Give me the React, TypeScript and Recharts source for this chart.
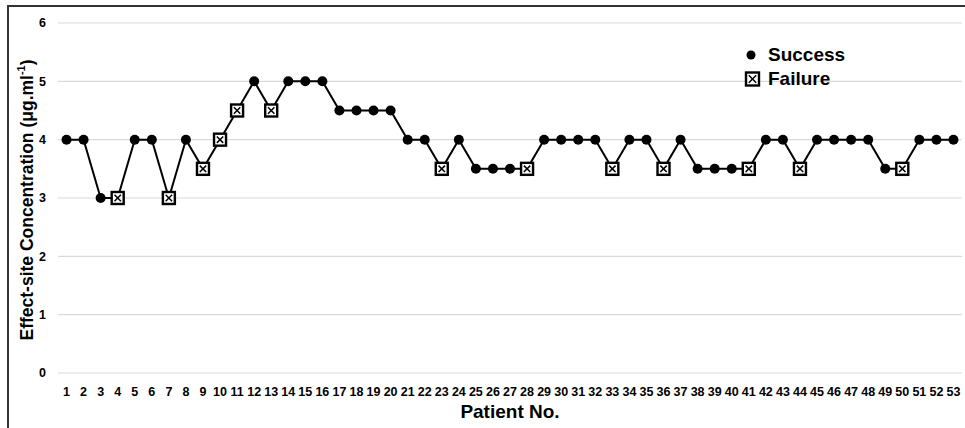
import React from 'react';
import { LineChart, Line, XAxis, YAxis, CartesianGrid, Legend, Label } from 'recharts';

const patients = [
  1, 2, 3, 4, 5, 6, 7, 8, 9, 10, 11, 12, 13, 14, 15, 16, 17, 18, 19, 20, 21, 22, 23, 24, 25, 26, 27,
  28, 29, 30, 31, 32, 33, 34, 35, 36, 37, 38, 39, 40, 41, 42, 43, 44, 45, 46, 47, 48, 49, 50, 51, 52, 53,
];
const concentration = [
  4, 4, 3, 3, 4, 4, 3, 4, 3.5, 4, 4.5, 5, 4.5, 5, 5, 5, 4.5, 4.5, 4.5, 4.5, 4, 4, 3.5, 4, 3.5, 3.5, 3.5,
  3.5, 4, 4, 4, 4, 3.5, 4, 4, 3.5, 4, 3.5, 3.5, 3.5, 3.5, 4, 4, 3.5, 4, 4, 4, 4, 3.5, 3.5, 4, 4, 4,
];
// S = success, F = failure
const outcome = [
  'S', 'S', 'S', 'F', 'S', 'S', 'F', 'S', 'F', 'F', 'F', 'S', 'F', 'S', 'S', 'S', 'S', 'S', 'S', 'S', 'S', 'S', 'F', 'S', 'S', 'S', 'S',
  'F', 'S', 'S', 'S', 'S', 'F', 'S', 'S', 'F', 'S', 'S', 'S', 'S', 'F', 'S', 'S', 'F', 'S', 'S', 'S', 'S', 'S', 'F', 'S', 'S', 'S',
];
const yTicks = [0, 1, 2, 3, 4, 5, 6];

const data = patients.map((p, i) => ({ patient: p, ce: concentration[i], outcome: outcome[i] }));

const FONT = '"Liberation Sans", Arial, Helvetica, sans-serif';

const FailMark = ({ cx, cy, size }: { cx: number; cy: number; size: number }) => {
  const h = size / 2;
  const k = h - 2.8;
  return (
    <g>
      <rect x={cx - h} y={cy - h} width={size} height={size} fill="#fff" stroke="#000" strokeWidth={2.4} />
      <line x1={cx - k} y1={cy - k} x2={cx + k} y2={cy + k} stroke="#000" strokeWidth={1.5} />
      <line x1={cx - k} y1={cy + k} x2={cx + k} y2={cy - k} stroke="#000" strokeWidth={1.5} />
    </g>
  );
};

const renderDot = (props: any) => {
  const { cx, cy, payload, index } = props;
  if (payload.outcome === 'F') {
    return <FailMark key={`d${index}`} cx={cx} cy={cy} size={12} />;
  }
  return <circle key={`d${index}`} cx={cx} cy={cy} r={5} fill="#000" />;
};

const LegendBox = () => (
  <div style={{ fontFamily: FONT, fontWeight: 'bold', fontSize: 19, color: '#000', lineHeight: '24px' }}>
    <div style={{ display: 'flex', alignItems: 'center' }}>
      <svg width={22} height={16} style={{ marginRight: 2 }}>
        <circle cx={7} cy={8} r={4.5} fill="#000" />
      </svg>
      <span>Success</span>
    </div>
    <div style={{ display: 'flex', alignItems: 'center' }}>
      <svg width={22} height={16} style={{ marginRight: 2 }}>
        <FailMark cx={8.5} cy={8} size={13} />
      </svg>
      <span>Failure</span>
    </div>
  </div>
);

const YTitle = (props: any) => {
  const vb = props.viewBox;
  const cx = vb.x + 27;
  const cy = vb.y + vb.height / 2 + 2;
  return (
    <text
      x={cx}
      y={cy}
      transform={`rotate(-90 ${cx} ${cy})`}
      textAnchor="middle"
      dominantBaseline="central"
      fontFamily={FONT}
      fontWeight="bold"
      fontSize={17.5}
      fill="#000"
    >
      Effect-site Concentration (μg.ml
      <tspan dy={-6} fontSize={11}>-1</tspan>
      <tspan dy={6}>)</tspan>
    </text>
  );
};

export default function App() {
  return (
    <div style={{ position: 'absolute', left: 0, top: 0, width: 965, height: 428, background: '#fff' }}>
      <div
        style={{
          position: 'absolute',
          left: 7,
          top: 5,
          width: 958,
          height: 423,
          borderTop: '2px solid #333',
          borderLeft: '2px solid #333',
        }}
      />
      <LineChart
        width={965}
        height={428}
        data={data}
        margin={{ top: 23, right: 3, bottom: 0, left: 0 }}
        style={{ fontFamily: FONT }}
      >
        <CartesianGrid vertical={false} stroke="#d9d9d9" strokeWidth={1.2} />
        <XAxis
          dataKey="patient"
          type="category"
          scale="band"
          interval={0}
          height={55}
          axisLine={false}
          tickLine={false}
          tickMargin={8}
          tick={{ fontSize: 12.5, fontWeight: 'bold', fill: '#000', fontFamily: FONT }}
        >
          <Label
            value="Patient No."
            position="insideBottom"
            offset={10}
            style={{ fontSize: 19, fontWeight: 'bold', fill: '#000', fontFamily: FONT }}
          />
        </XAxis>
        <YAxis
          domain={[0, 6]}
          ticks={yTicks}
          width={58}
          axisLine={false}
          tickLine={false}
          tickMargin={6}
          tick={{ fontSize: 12.5, fontWeight: 'bold', fill: '#000', fontFamily: FONT }}
          label={<YTitle />}
        />
        <Legend
          layout="horizontal"
          align="center"
          verticalAlign="middle"
          content={<LegendBox />}
          wrapperStyle={{ left: 744, top: 43, width: 140 }}
        />
        <Line
          type="linear"
          dataKey="ce"
          stroke="#000"
          strokeWidth={2}
          dot={renderDot}
          activeDot={false}
          isAnimationActive={false}
          legendType="none"
        />
      </LineChart>
    </div>
  );
}
